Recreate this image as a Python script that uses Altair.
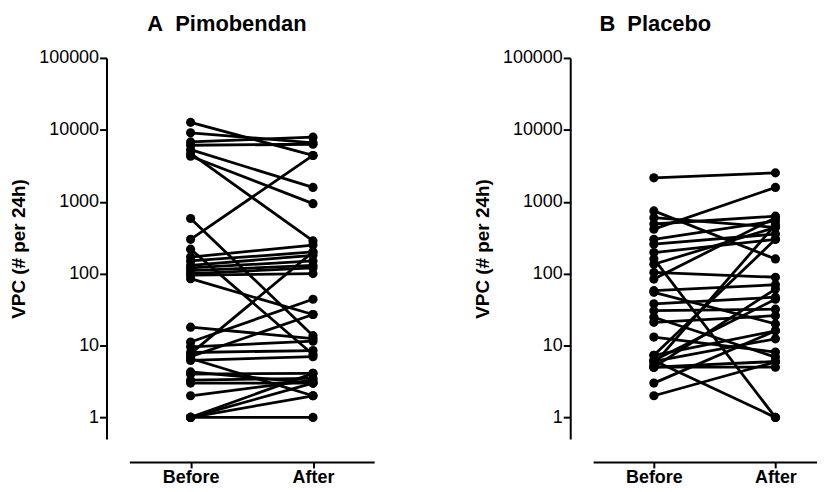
import altair as alt
import pandas as pd

groups = ["Before", "After"]
y_ticks = [1, 10, 100, 1000, 10000, 100000]

# Panel A: Pimobendan (paired values, before -> after)
a_before = [12700, 9100, 6800, 6100, 5300, 4300, 4700, 585, 300, 219,
            170, 150, 130, 120, 110, 100, 95, 85, 18, 11.2,
            9.6, 8.0, 7.7, 7.0, 6.6, 6.2, 4.3, 4.0, 3.3, 3.0,
            2.0, 1, 1, 1, 1]
a_after = [4400, 6600, 7900, 6300, 1580, 940, 285, 13.7, 4400, 7.5,
           250, 200, 180, 150, 130, 120, 100, 27, 12.5, 44,
           11.5, 8.5, 200, 27, 2.0, 7.0, 3.0, 4.1, 3.5, 3.0,
           3.3, 1, 2.0, 3.0, 4.1]

# Panel B: Placebo
b_before = [2150, 745, 600, 490, 415, 300, 257, 196, 160, 135,
            104, 84, 58, 55, 38, 30.5, 24.7, 21, 13.1, 7.3,
            7.3, 6.2, 6.2, 5.0, 5.0, 5.0, 3.0, 2.0, 6.0, 5.5]
b_after = [2520, 160, 440, 630, 1580, 540, 355, 300, 1.0, 440,
           89, 600, 70, 20, 47, 32, 6.9, 26, 8.1, 300,
           16, 44, 1.0, 61, 5.0, 6.0, 16, 5.9, 12.4, 480]


def to_long(before, after):
    rows = []
    for i, (b, a) in enumerate(zip(before, after)):
        rows.append({"id": i, "t": 0, "v": b})
        rows.append({"id": i, "t": 1, "v": a})
    return pd.DataFrame(rows)


def panel(df, title, xmax, width, dx):
    x = alt.X(
        "t:Q",
        scale=alt.Scale(domain=[-0.5, xmax], nice=False, zero=False),
        axis=alt.Axis(
            values=[0, 1],
            labelExpr="datum.value == 0 ? '%s' : '%s'" % (groups[0], groups[1]),
            title=None,
            offset=23,
            grid=False,
            tickSize=6,
            labelFontWeight="bold",
            labelPadding=1,
        ),
    )
    y = alt.Y(
        "v:Q",
        scale=alt.Scale(type="log", domain=[0.5, 100000], nice=False),
        axis=alt.Axis(
            values=y_ticks,
            format="d",
            title="VPC (# per 24h)",
            offset=23,
            grid=False,
            tickSize=7,
            labelPadding=1,
            titlePadding=10,
        ),
    )
    base = alt.Chart(df)
    lines = base.mark_line(color="black", strokeWidth=2.8).encode(
        x=x, y=y, detail="id:N"
    )
    pts = base.mark_circle(color="black", size=85, opacity=1).encode(
        x="t:Q", y="v:Q"
    )
    return alt.layer(lines, pts).properties(
        width=width,
        height=383,
        title=alt.TitleParams(
            title,
            dx=dx,
            anchor="middle",
            frame="group",
            fontSize=22,
            fontWeight="bold",
            font="Liberation Sans",
            color="black",
            offset=13,
        ),
    )


pa = panel(to_long(a_before, a_after), "A\u00a0\u00a0Pimobendan", 1.5, 246, -25)
pb = panel(to_long(b_before, b_after), "B\u00a0\u00a0Placebo", 1.342, 225, -50)

chart = (
    alt.hconcat(pa, pb, spacing=99)
    .properties(padding={"left": 1, "top": 4, "right": 0, "bottom": 0})
    .configure(background="white")
    .configure_view(strokeWidth=0)
    .configure_axis(
        domainColor="black",
        domainWidth=2,
        tickColor="black",
        tickWidth=2,
        labelColor="black",
        labelFont="Liberation Sans",
        labelFontSize=18,
        titleFont="Liberation Sans",
        titleFontSize=19,
        titleFontWeight="bold",
        titleColor="black",
    )
)

chart.save("out.html", embed_options={"renderer": "svg", "actions": False})
